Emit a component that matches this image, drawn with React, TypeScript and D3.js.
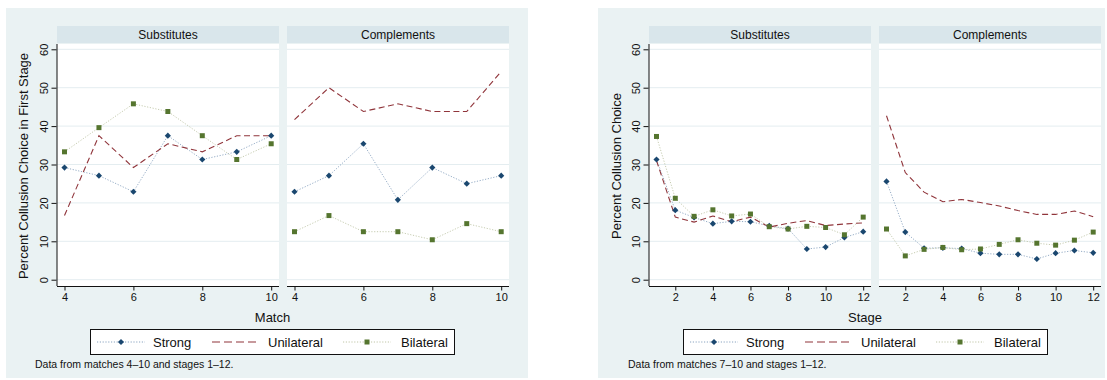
import { useEffect, useRef } from "react";
import * as d3 from "d3";

// tick values
const yTicks = [0, 10, 20, 30, 40, 50, 60];
const matches = [4, 5, 6, 7, 8, 9, 10];
const matchTicks = [4, 6, 8, 10];
const stages = [1, 2, 3, 4, 5, 6, 7, 8, 9, 10, 11, 12];
const stageTicks = [2, 4, 6, 8, 10, 12];

const seriesNames = ["Strong", "Unilateral", "Bilateral"];
const panelTitles = ["Substitutes", "Complements"];

// first stage collusion by match
const matchSubStrong = [29.2, 27.1, 22.9, 37.5, 31.3, 33.3, 37.5];
const matchSubUnilateral = [16.7, 37.5, 29.2, 35.4, 33.3, 37.5, 37.5];
const matchSubBilateral = [33.3, 39.6, 45.8, 43.8, 37.5, 31.3, 35.4];
const matchCompStrong = [22.9, 27.1, 35.4, 20.8, 29.2, 25.0, 27.1];
const matchCompUnilateral = [41.7, 50.0, 43.8, 45.8, 43.8, 43.8, 54.2];
const matchCompBilateral = [12.5, 16.7, 12.5, 12.5, 10.4, 14.6, 12.5];

// collusion by stage
const stageSubStrong = [31.3, 18.1, 16.2, 14.6, 15.2, 15.1, 14.0, 13.3, 8.0, 8.5, 11.0, 12.5];
const stageSubUnilateral = [31.0, 16.3, 15.0, 16.6, 15.1, 16.3, 13.7, 14.7, 15.4, 14.1, 14.5, 14.8];
const stageSubBilateral = [37.3, 21.2, 16.5, 18.2, 16.6, 17.1, 13.8, 13.2, 13.9, 13.6, 11.7, 16.3];
const stageCompStrong = [25.6, 12.4, 8.2, 8.3, 8.1, 6.9, 6.6, 6.6, 5.4, 6.9, 7.6, 7.0];
const stageCompUnilateral = [42.7, 27.9, 22.8, 20.3, 20.9, 20.1, 19.2, 18.0, 17.0, 17.0, 17.9, 16.4];
const stageCompBilateral = [13.2, 6.2, 7.9, 8.4, 7.8, 8.0, 9.2, 10.4, 9.5, 9.0, 10.3, 12.4];

const FONT = "'Liberation Sans', Arial, Helvetica, sans-serif";
const BG = "#eaf2f3";
const STRIP = "#d9e6eb";
const GRID = "#e4edf0";

const styles = [
  { marker: "#1a476f", line: "#8aa4c0", dash: "1.2,1.6", width: 0.9, shape: "diamond" },
  { marker: "#90353b", line: "#90353b", dash: "6,3.5", width: 1.1, shape: "none" },
  { marker: "#55752f", line: "#c0c6a8", dash: "1.2,1.6", width: 0.9, shape: "square" },
];

function drawMarker(g, shape, color, x, y) {
  if (shape === "diamond") {
    g.append("path")
      .attr("d", d3.symbol(d3.symbolSquare, 19)())
      .attr("transform", `translate(${x},${y}) rotate(45)`)
      .attr("fill", color);
  } else if (shape === "square") {
    g.append("path")
      .attr("d", d3.symbol(d3.symbolSquare, 25)())
      .attr("transform", `translate(${x},${y})`)
      .attr("fill", color);
  }
}

function drawGraph(svg, cfg) {
  const panelW = 222;
  const gap = 8;
  const stripTop = 26;
  const stripH = 17;
  const plotTop = 44;
  const axisY = 286;

  svg.append("rect")
    .attr("x", cfg.x0).attr("y", 8)
    .attr("width", cfg.x1 - cfg.x0).attr("height", 370)
    .attr("fill", BG);

  const y = d3.scaleLinear().domain([0, 60]).range([279.7, 49.3]);

  cfg.panels.forEach((p, i) => {
    const left = cfg.plotLeft + i * (panelW + gap);
    const x = d3.scaleLinear().domain(cfg.xDomain).range([left + 7.5, left + panelW - 7.8]);
    const pg = svg.append("g");

    pg.append("rect")
      .attr("x", left).attr("y", stripTop)
      .attr("width", panelW).attr("height", stripH)
      .attr("fill", STRIP);
    pg.append("text")
      .attr("x", left + panelW / 2).attr("y", stripTop + stripH / 2)
      .attr("dy", "0.36em")
      .attr("text-anchor", "middle")
      .style("font-size", "12px")
      .attr("fill", "#111")
      .text(panelTitles[i]);

    pg.append("rect")
      .attr("x", left).attr("y", plotTop)
      .attr("width", panelW).attr("height", axisY - plotTop)
      .attr("fill", "#fff");

    pg.selectAll(".grid").data(yTicks).enter().append("line")
      .attr("x1", left).attr("x2", left + panelW)
      .attr("y1", d => y(d)).attr("y2", d => y(d))
      .attr("stroke", GRID).attr("stroke-width", 1);

    // series
    p.series.forEach((vals, si) => {
      const st = styles[si];
      const line = d3.line().x((d, k) => x(cfg.xValues[k])).y(d => y(d));
      pg.append("path")
        .attr("d", line(vals))
        .attr("fill", "none")
        .attr("stroke", st.line)
        .attr("stroke-width", st.width)
        .attr("stroke-dasharray", st.dash);
    });
    p.series.forEach((vals, si) => {
      const st = styles[si];
      vals.forEach((v, k) => drawMarker(pg, st.shape, st.marker, x(cfg.xValues[k]), y(v)));
    });

    const xAxis = d3.axisBottom(x)
      .tickValues(cfg.xTicks)
      .tickFormat(d3.format("d"))
      .tickSize(4.5).tickPadding(2.5).tickSizeOuter(0);
    const xa = pg.append("g")
      .attr("transform", `translate(0,${axisY})`)
      .call(xAxis);
    xa.select(".domain").attr("d", `M${left},0.5H${left + panelW}`).attr("stroke", "#111");
    xa.selectAll("line").attr("stroke", "#111");
    xa.selectAll("text").style("font-size", "11px").style("font-family", FONT).attr("fill", "#111");

    if (i === 0) {
      const yAxis = d3.axisLeft(y).tickValues(yTicks).tickFormat(d3.format("d")).tickSize(5).tickSizeOuter(0);
      const ya = pg.append("g")
        .attr("transform", `translate(${left - 0.5},0)`)
        .call(yAxis);
      ya.select(".domain").attr("d", `M0.5,${plotTop}V${axisY}`).attr("stroke", "#111");
      ya.selectAll("line").attr("stroke", "#111");
      ya.selectAll("text")
        .attr("x", 0)
        .attr("dy", "0.36em")
        .attr("text-anchor", "middle")
        .attr("transform", "translate(-12,0) rotate(-90)")
        .style("font-size", "11px")
        .style("font-family", FONT)
        .attr("fill", "#111");
    }
  });

  // axis titles
  svg.append("text")
    .attr("transform", `translate(${cfg.yLabelX},166) rotate(-90)`)
    .attr("dy", "0.36em")
    .attr("text-anchor", "middle")
    .style("font-size", "13px")
    .attr("fill", "#111")
    .text(cfg.yLabel);
  svg.append("text")
    .attr("x", cfg.titleX).attr("y", 317)
    .attr("dy", "0.36em")
    .attr("text-anchor", "middle")
    .style("font-size", "13px")
    .attr("fill", "#111")
    .text(cfg.xLabel);

  // legend
  const bx = cfg.legendX;
  const by = 329;
  const lg = svg.append("g");
  lg.append("rect")
    .attr("x", bx + 0.5).attr("y", by + 0.5)
    .attr("width", 364).attr("height", 25)
    .attr("fill", "#fff").attr("stroke", "#111").attr("stroke-width", 1);
  const sampleX = [7, 122, 253];
  const textX = [63, 178, 311];
  const cy = by + 13;
  seriesNames.forEach((name, si) => {
    const st = styles[si];
    lg.append("line")
      .attr("x1", bx + sampleX[si]).attr("x2", bx + sampleX[si] + 48)
      .attr("y1", cy).attr("y2", cy)
      .attr("stroke", st.line)
      .attr("stroke-width", si === 1 ? 1.2 : 1)
      .attr("stroke-dasharray", si === 1 ? "8,4" : st.dash);
    drawMarker(lg, st.shape, st.marker, bx + sampleX[si] + 24, cy);
    lg.append("text")
      .attr("x", bx + textX[si]).attr("y", cy)
      .attr("dy", "0.36em")
      .style("font-size", "13px")
      .attr("fill", "#111")
      .text(name);
  });

  svg.append("text")
    .attr("x", cfg.noteX).attr("y", 364)
    .attr("dy", "0.36em")
    .style("font-size", "10.5px")
    .attr("fill", "#111")
    .text(cfg.note);
}

export default function App() {
  const ref = useRef(null);

  useEffect(() => {
    document.body.style.margin = "0";
    const svg = d3.select(ref.current);
    svg.selectAll("*").remove();
    svg.append("rect").attr("width", 1107).attr("height", 380).attr("fill", "#fff");

    drawGraph(svg, {
      x0: 6, x1: 528, plotLeft: 57,
      xDomain: [4, 10], xValues: matches, xTicks: matchTicks,
      xLabel: "Match", titleX: 272.5,
      yLabel: "Percent Collusion Choice in First Stage", yLabelX: 23.5,
      legendX: 90, noteX: 35,
      note: "Data from matches 4\u201310 and stages 1\u201312.",
      panels: [
        { series: [matchSubStrong, matchSubUnilateral, matchSubBilateral] },
        { series: [matchCompStrong, matchCompUnilateral, matchCompBilateral] },
      ],
    });

    drawGraph(svg, {
      x0: 598, x1: 1105, plotLeft: 649,
      xDomain: [1, 12], xValues: stages, xTicks: stageTicks,
      xLabel: "Stage", titleX: 865,
      yLabel: "Percent Collusion Choice", yLabelX: 616.5,
      legendX: 683, noteX: 628,
      note: "Data from matches 7\u201310 and stages 1\u201312.",
      panels: [
        { series: [stageSubStrong, stageSubUnilateral, stageSubBilateral] },
        { series: [stageCompStrong, stageCompUnilateral, stageCompBilateral] },
      ],
    });
  }, []);

  return (
    <svg
      ref={ref}
      width={1107}
      height={380}
      style={{ display: "block", fontFamily: FONT }}
    />
  );
}
